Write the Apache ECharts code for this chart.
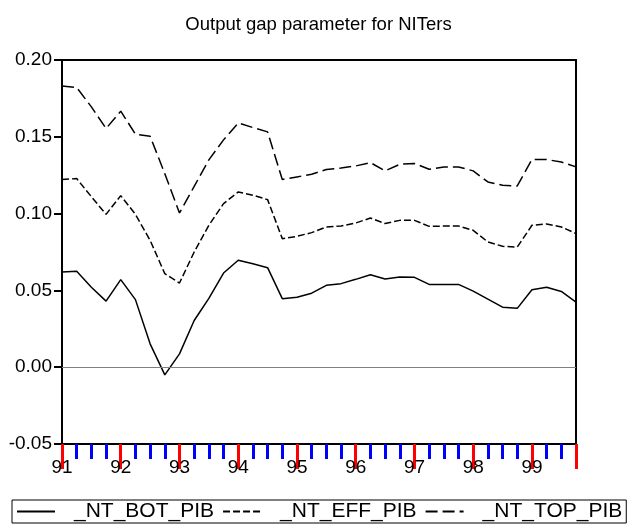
<!DOCTYPE html>
<html>
<head>
<meta charset="utf-8">
<script src="https://cdn.jsdelivr.net/npm/echarts@6/dist/echarts.min.js"></script>
<style>
  html, body { margin: 0; padding: 0; background: #fff; }
  #chart { width: 637px; height: 529px; }
</style>
</head>
<body>
<div id="chart"></div>
<script>
// quarters 91Q1 .. 99Q4
let years = ["91", "92", "93", "94", "95", "96", "97", "98", "99"];
let quarters = [];
years.forEach((y) => {
  for (let q = 1; q <= 4; q++) quarters.push(y + "Q" + q);
});

let botPib = [
  0.062, 0.0624, 0.052, 0.043, 0.057, 0.044, 0.0152, -0.005, 0.0087,
  0.0304, 0.0448, 0.0613, 0.0696, 0.0674, 0.0648, 0.0446, 0.0456, 0.0482,
  0.0533, 0.0544, 0.0572, 0.0602, 0.0574, 0.0587, 0.0585, 0.0539, 0.0539,
  0.0539, 0.0495, 0.0443, 0.0391, 0.0383, 0.0504, 0.052, 0.0493, 0.0424
];
let effPib = [
  0.1222, 0.1228, 0.111, 0.0995, 0.1117, 0.0995, 0.0826, 0.0609, 0.0548,
  0.075, 0.0924, 0.1065, 0.1141, 0.112, 0.1091, 0.0837, 0.0852, 0.0876,
  0.0913, 0.0919, 0.0939, 0.0971, 0.0935, 0.0956, 0.0956, 0.0917, 0.0919,
  0.0919, 0.0891, 0.0815, 0.0787, 0.0782, 0.0924, 0.0932, 0.0913, 0.087
];
let topPib = [
  0.183, 0.1821, 0.1695, 0.1554, 0.1667, 0.1517, 0.1504, 0.126, 0.1004,
  0.1177, 0.135, 0.148, 0.159, 0.156, 0.1532, 0.1222, 0.1239, 0.1256,
  0.1287, 0.1297, 0.131, 0.1332, 0.1278, 0.1321, 0.1326, 0.1289, 0.1304,
  0.1304, 0.1278, 0.1206, 0.1184, 0.118, 0.1352, 0.1352, 0.1336, 0.1304
];
let seriesNames = ["_NT_BOT_PIB", "_NT_EFF_PIB", "_NT_TOP_PIB"];

let mycharts = echarts.init(document.getElementById("chart"));
let font = "Liberation Sans, Arial, sans-serif";

// x 用季度序号 (0 = 91Q1)
let toPairs = (arr) => arr.map((v, i) => [i, v]);

let lineSeries = (name, data, type) => ({
  name: name,
  type: "line",
  data: toPairs(data),
  symbol: "none",
  silent: true,
  itemStyle: { color: "#000" },
  lineStyle: { color: "#000", width: 1.5, type: type },
});

let bot = lineSeries(seriesNames[0], botPib, "solid");
// 零线
bot.markLine = {
  silent: true,
  symbol: "none",
  label: { show: false },
  lineStyle: { color: "#808080", width: 1, type: "solid" },
  data: [{ yAxis: 0 }],
};

let frameLine = () => ({ show: true, onZero: false, lineStyle: { color: "#000", width: 2 } });
let xMax = quarters.length - 1;

let option = {
  animation: false,
  color: ["#000", "#000", "#000"],
  title: {
    text: "Output gap parameter for NITers",
    left: "center",
    top: 10,
    textStyle: { fontSize: 18.5, fontWeight: "normal", color: "#000", fontFamily: font },
  },
  grid: { left: 62, right: 61, top: 60, bottom: 85 },
  legend: {
    left: 12,
    top: 500,
    padding: [1, 4, 1, 4],
    itemGap: 8,
    itemWidth: 38,
    itemHeight: 20,
    borderColor: "#000",
    borderWidth: 1,
    itemStyle: { opacity: 0 },
    textStyle: { fontSize: 21, color: "#000", fontFamily: font, padding: [0, 0, 0, 14] },
    data: seriesNames,
  },
  xAxis: [
    {
      // 年份标签
      type: "value",
      min: 0,
      max: xMax,
      interval: 4,
      axisLine: frameLine(),
      axisTick: { show: false },
      axisLabel: {
        margin: 14,
        fontSize: 19,
        color: "#000",
        fontFamily: font,
        showMaxLabel: false,
        formatter: (v) => (v % 4 === 0 ? quarters[v].slice(0, 2) : ""),
      },
      splitLine: { show: false },
    },
    {
      // 刻度：年长、季短
      type: "value",
      position: "bottom",
      min: 0,
      max: xMax,
      interval: 4,
      axisLine: frameLine(),
      axisTick: { show: true, length: 25, lineStyle: { color: "#f00", width: 3 } },
      minorTick: { show: true, splitNumber: 4, length: 15, lineStyle: { color: "#00f", width: 3 } },
      axisLabel: { show: false },
      splitLine: { show: false },
      minorSplitLine: { show: false },
    },
    {
      // 上边框
      type: "value",
      position: "top",
      min: 0,
      max: xMax,
      axisLine: frameLine(),
      axisTick: { show: false },
      axisLabel: { show: false },
      splitLine: { show: false },
    },
  ],
  yAxis: [
    {
      type: "value",
      min: -0.05,
      max: 0.2,
      interval: 0.05,
      axisLine: frameLine(),
      axisTick: { show: true, length: 8, lineStyle: { color: "#000", width: 2 } },
      axisLabel: {
        margin: 10,
        fontSize: 19,
        color: "#000",
        fontFamily: font,
        formatter: (v) => v.toFixed(2),
      },
      splitLine: { show: false },
    },
    {
      // 右边框
      type: "value",
      position: "right",
      min: -0.05,
      max: 0.2,
      axisLine: frameLine(),
      axisTick: { show: false },
      axisLabel: { show: false },
      splitLine: { show: false },
    },
  ],
  series: [
    bot,
    lineSeries(seriesNames[1], effPib, [7, 3]),
    lineSeries(seriesNames[2], topPib, [12, 5]),
  ],
};
mycharts.setOption(option);
</script>
</body>
</html>
